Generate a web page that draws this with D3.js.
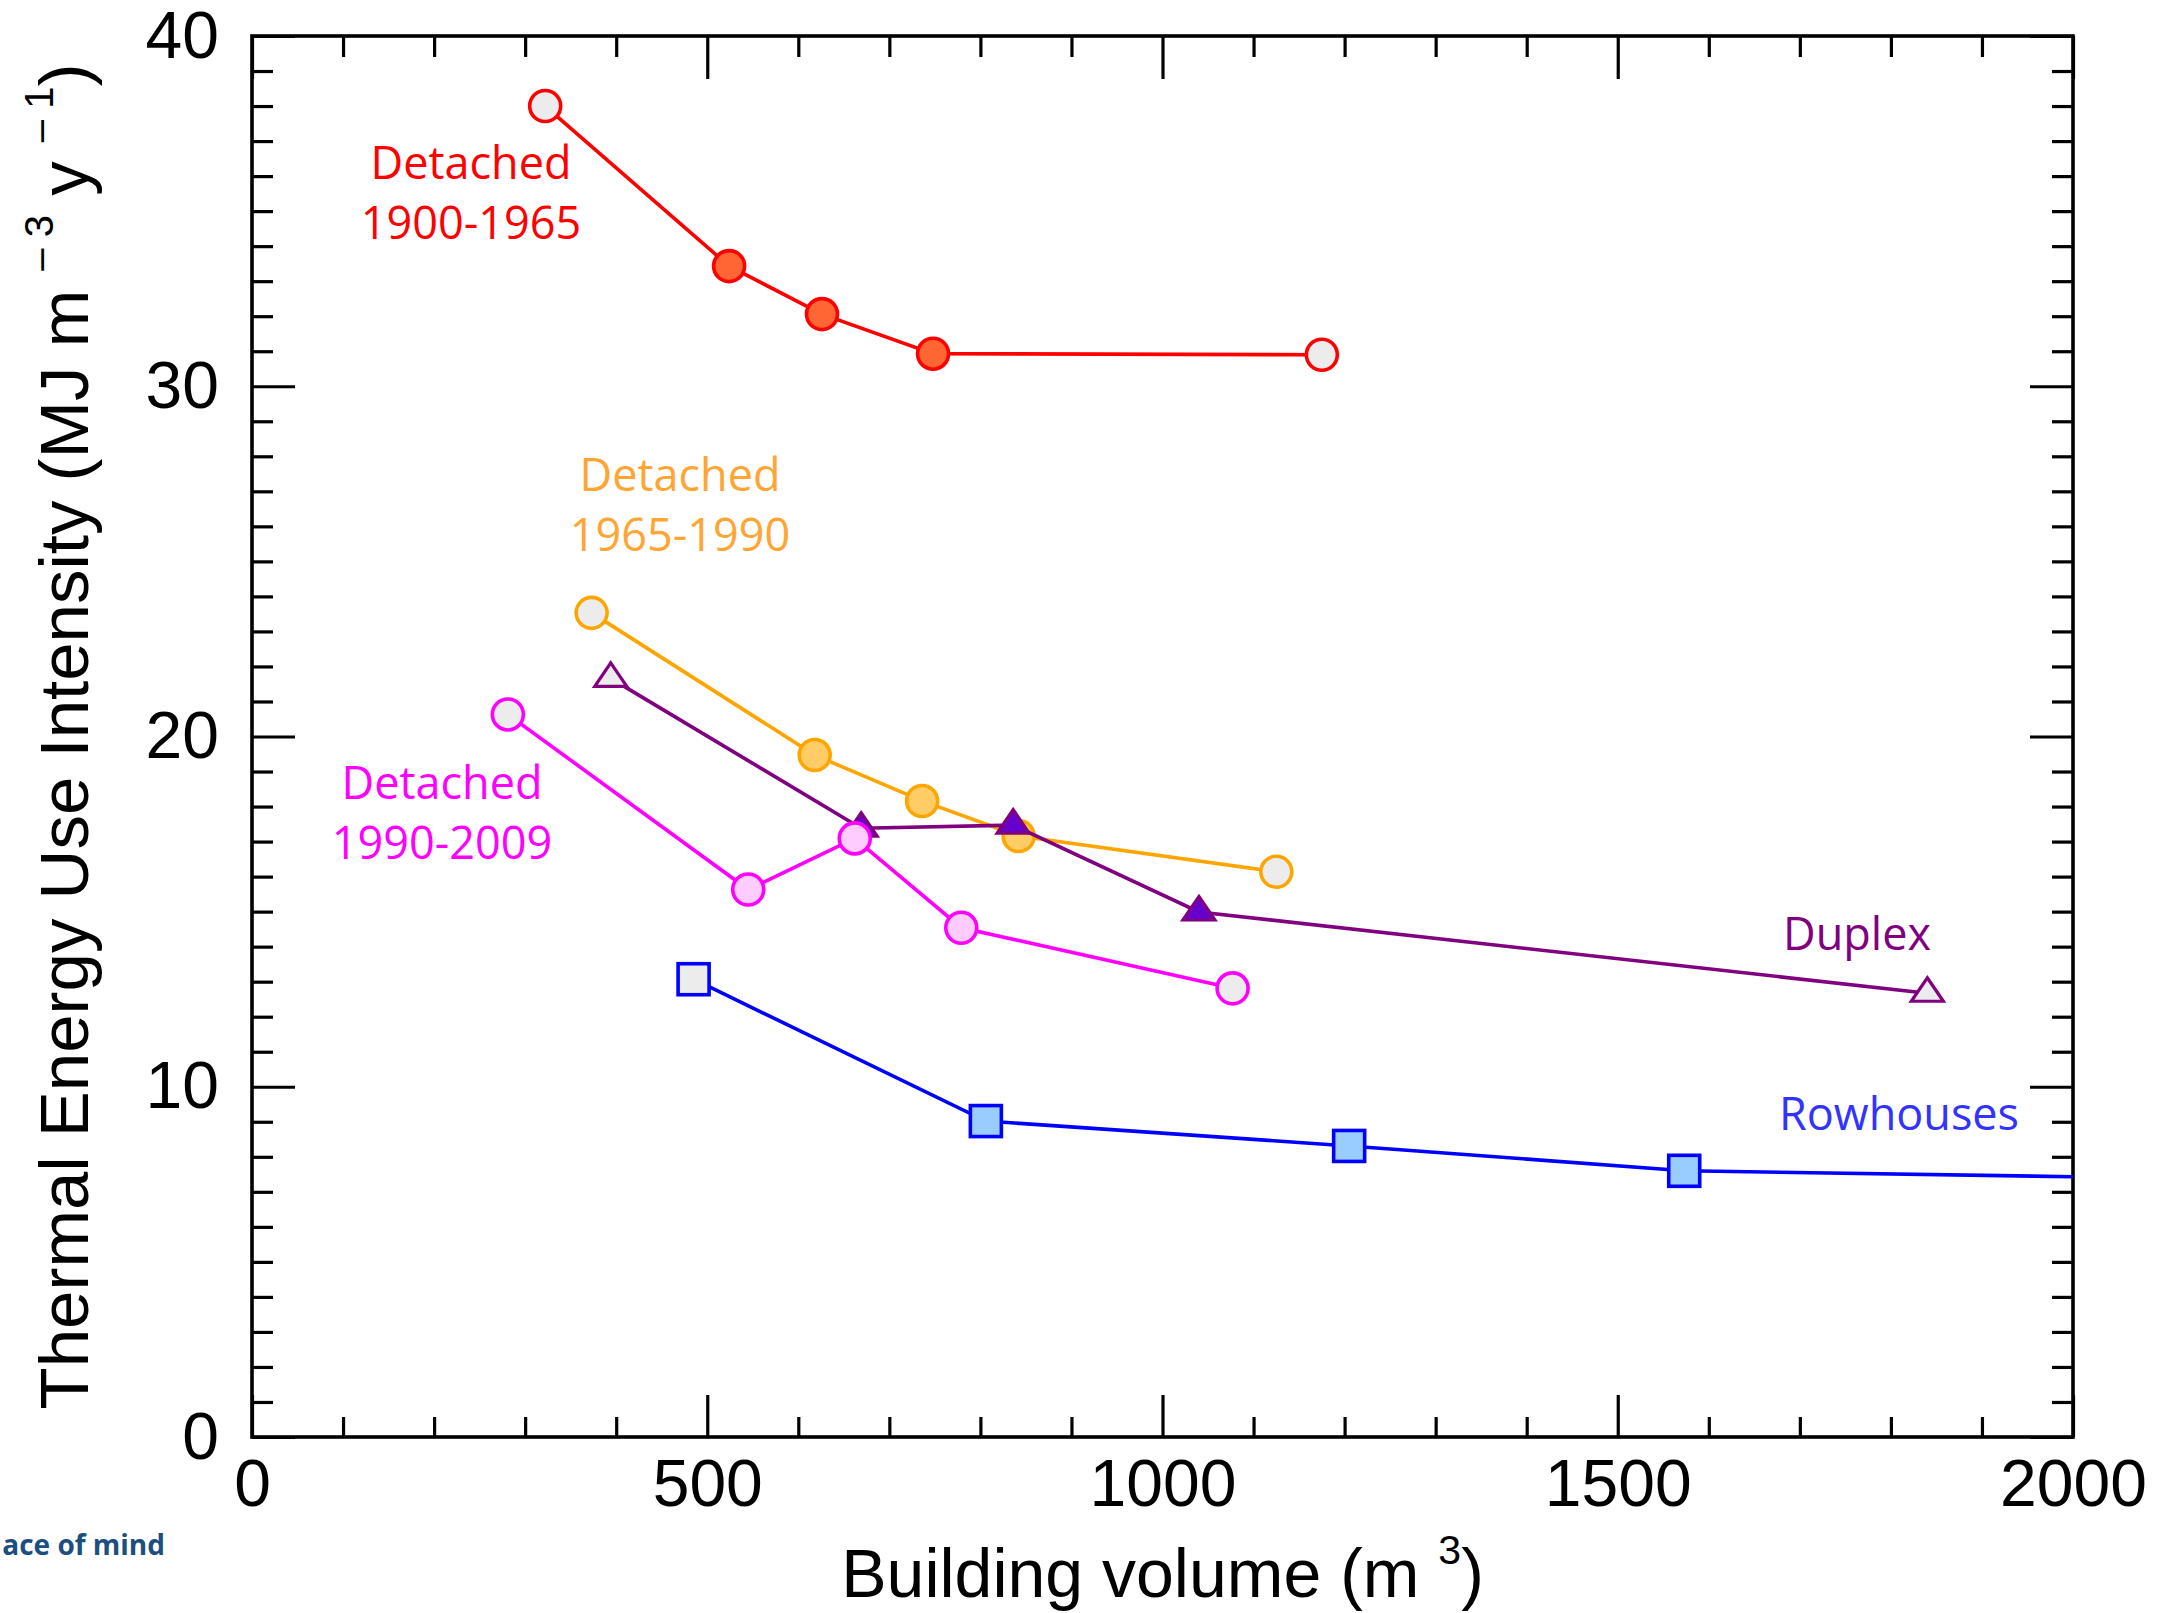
<!DOCTYPE html>
<html>
<head>
<meta charset="utf-8">
<script src="https://cdn.jsdelivr.net/npm/d3@7"></script>
<style>
  html, body { margin: 0; padding: 0; background: #fff; }
  svg { display: block; }
</style>
</head>
<body>
<svg id="chart" width="2171" height="1613"></svg>
<script>
// ---------------- data ----------------
const xTicks = [0, 500, 1000, 1500, 2000];
const yTicks = [0, 10, 20, 30, 40];

const det1900X = [322, 524, 626, 748, 1175];
const det1900Y = [38.0, 33.43, 32.06, 30.93, 30.9];

const det1965X = [373, 618, 736, 842, 1125];
const det1965Y = [23.53, 19.47, 18.16, 17.16, 16.14];

const det1990X = [281, 545, 662, 779, 1077];
const det1990Y = [20.63, 15.63, 17.09, 14.54, 12.81];

const duplexX = [394, 669, 836, 1040, 1840];
const duplexY = [21.66, 17.38, 17.47, 14.99, 12.67];

const rowX = [485, 806, 1205, 1573, 2200];
const rowY = [13.07, 9.02, 8.31, 7.60, 7.35];

const seriesNames = ["Detached 1900-1965", "Detached 1965-1990", "Detached 1990-2009", "Duplex", "Rowhouses"];

// ---------------- layout / style ----------------
const W = 2171, H = 1613;
const X0 = 252, X1 = 2073, Y0 = 36, Y1 = 1437;
const svg = d3.select("#chart");

const x = d3.scaleLinear().domain([0, 2000]).range([X0, X1]);
const y = d3.scaleLinear().domain([0, 40]).range([Y1, Y0]);

const GRAY = "#ececec";
const series = [
  { name: seriesNames[0], xs: det1900X, ys: det1900Y, stroke: "#ff0000", fill: "#ff6633", shape: "circle" },
  { name: seriesNames[1], xs: det1965X, ys: det1965Y, stroke: "#ffa500", fill: "#ffcc66", shape: "circle" },
  { name: seriesNames[3], xs: duplexX, ys: duplexY, stroke: "#800080", fill: "#6600cc", shape: "triangle" },
  { name: seriesNames[2], xs: det1990X, ys: det1990Y, stroke: "#ff00ff", fill: "#ffccff", shape: "circle" },
  { name: seriesNames[4], xs: rowX, ys: rowY, stroke: "#0000ff", fill: "#99ccff", shape: "square" }
];

svg.append("defs").append("clipPath").attr("id", "plotclip")
  .append("rect").attr("x", X0).attr("y", Y0).attr("width", X1 - X0).attr("height", Y1 - Y0);

// ---------------- axes ----------------
const minorX = d3.range(0, 2001, 100).filter(v => v % 500 !== 0);
const minorY = d3.range(0, 41, 1).filter(v => v % 10 !== 0);
const tickFont = "'Liberation Sans', Arial, Helvetica, sans-serif";

function styleAxis(g) {
  g.select(".domain").remove();
  g.selectAll(".tick line").attr("stroke", "#000").attr("stroke-width", 3.2);
  g.selectAll(".tick text").attr("fill", "#000").style("font-family", tickFont).style("font-size", "66px");
}

// bottom
svg.append("g").attr("transform", `translate(0,${Y1})`)
  .call(d3.axisBottom(x).tickValues(minorX).tickSize(-20).tickFormat("")).call(styleAxis);
svg.append("g").attr("transform", `translate(0,${Y1})`)
  .call(d3.axisBottom(x).tickValues(xTicks).tickSize(-42).tickPadding(22).tickFormat(d3.format("d"))).call(styleAxis);
// top
svg.append("g").attr("transform", `translate(0,${Y0})`)
  .call(d3.axisTop(x).tickValues(minorX).tickSize(-21).tickFormat("")).call(styleAxis);
svg.append("g").attr("transform", `translate(0,${Y0})`)
  .call(d3.axisTop(x).tickValues(xTicks).tickSize(-43).tickFormat("")).call(styleAxis);
// left
svg.append("g").attr("transform", `translate(${X0},0)`)
  .call(d3.axisLeft(y).tickValues(minorY).tickSize(-21).tickFormat("")).call(styleAxis);
svg.append("g").attr("transform", `translate(${X0},0)`)
  .call(d3.axisLeft(y).tickValues(yTicks).tickSize(-43).tickPadding(33).tickFormat(d3.format("d"))).call(styleAxis);
// right
svg.append("g").attr("transform", `translate(${X1},0)`)
  .call(d3.axisRight(y).tickValues(minorY).tickSize(-21).tickFormat("")).call(styleAxis);
svg.append("g").attr("transform", `translate(${X1},0)`)
  .call(d3.axisRight(y).tickValues(yTicks).tickSize(-43).tickFormat("")).call(styleAxis);

// frame
svg.append("rect").attr("x", X0).attr("y", Y0).attr("width", X1 - X0).attr("height", Y1 - Y0)
  .attr("fill", "none").attr("stroke", "#000").attr("stroke-width", 3.6);

// ---------------- series ----------------
const line = d3.line().x(d => x(d[0])).y(d => y(d[1]));
const plot = svg.append("g").attr("clip-path", "url(#plotclip)");

const triPath = "M0,-15.5 L16,8 L-16,8 Z";

series.forEach(s => {
  const pts = s.xs.map((v, i) => [v, s.ys[i]]);
  plot.append("path").datum(pts).attr("d", line)
    .attr("fill", "none").attr("stroke", s.stroke).attr("stroke-width", 3.6);
  const g = plot.append("g");
  pts.forEach((p, i) => {
    const end = (i === 0 || i === pts.length - 1);
    const fill = end ? GRAY : s.fill;
    const cx = x(p[0]), cy = y(p[1]);
    if (s.shape === "circle") {
      g.append("circle").attr("cx", cx).attr("cy", cy).attr("r", 15.5)
        .attr("fill", fill).attr("stroke", s.stroke).attr("stroke-width", 3.6);
    } else if (s.shape === "square") {
      g.append("rect").attr("x", cx - 15.5).attr("y", cy - 15.5).attr("width", 31).attr("height", 31)
        .attr("fill", fill).attr("stroke", s.stroke).attr("stroke-width", 3.6);
    } else {
      g.append("path").attr("d", triPath).attr("transform", `translate(${cx},${cy})`)
        .attr("fill", fill).attr("stroke", s.stroke).attr("stroke-width", 3.2);
    }
  });
});

// ---------------- series labels ----------------
const labFont = "'Open Sans', 'Noto Sans', sans-serif";
const labels = [
  { lines: ["Detached", "1900-1965"], x: 471, y: 179, color: "#ff0000" },
  { lines: ["Detached", "1965-1990"], x: 680, y: 491, color: "#ffa533" },
  { lines: ["Detached", "1990-2009"], x: 442, y: 799, color: "#ff00ff" },
  { lines: ["Duplex"], x: 1857, y: 950, color: "#800080" },
  { lines: ["Rowhouses"], x: 1899, y: 1130, color: "#3333ff" }
];
labels.forEach(l => {
  const t = svg.append("text").attr("x", l.x).attr("y", l.y).attr("text-anchor", "middle")
    .attr("fill", l.color).style("font-family", labFont).style("font-size", "45px");
  l.lines.forEach((ln, i) => {
    t.append("tspan").attr("x", l.x).attr("dy", i === 0 ? 0 : 60).text(ln);
  });
});

// ---------------- axis titles ----------------
const xt = svg.append("text").attr("x", (X0 + X1) / 2).attr("y", 1597).attr("text-anchor", "middle")
  .attr("fill", "#000").style("font-family", tickFont).style("font-size", "68px");
xt.append("tspan").text("Building volume (m ");
xt.append("tspan").attr("dy", -33).style("font-size", "41px").text("3");
xt.append("tspan").attr("dy", 33).text(")");

const yt = svg.append("text").attr("transform", `translate(88,${(Y0 + Y1) / 2}) rotate(-90)`)
  .attr("text-anchor", "middle").attr("fill", "#000")
  .style("font-family", tickFont).style("font-size", "69px");
yt.append("tspan").text("Thermal Energy Use Intensity (MJ m ");
yt.append("tspan").attr("dy", -35).style("font-size", "40px").text("– 3");
yt.append("tspan").attr("dy", 35).text(" y ");
yt.append("tspan").attr("dy", -35).style("font-size", "40px").text("– 1");
yt.append("tspan").attr("dy", 35).text(")");

// ---------------- cropped footer text ----------------
svg.append("text").attr("x", 165).attr("y", 1555).attr("text-anchor", "end")
  .attr("fill", "#1c4f80").style("font-family", labFont).style("font-weight", "700")
  .style("font-size", "28px").text("ace of mind");
</script>
</body>
</html>
